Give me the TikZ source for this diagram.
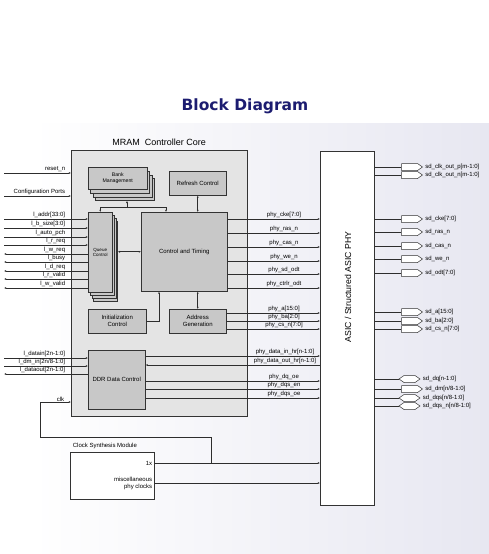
\documentclass[tikz,border=0pt]{standalone}
\usepackage{fontspec}
\setmainfont{Liberation Sans}
\newfontfamily\titlefont{DejaVu Sans}
\usetikzlibrary{positioning, calc, arrows.meta, shapes.symbols}

\definecolor{titleblue}{RGB}{28,28,112}
\definecolor{corefill}{RGB}{228,228,228}
\definecolor{blkfill}{RGB}{200,200,200}
\definecolor{bgright}{RGB}{231,231,241}
\definecolor{wirecol}{RGB}{45,45,45}

\tikzset{
  blk/.style={draw=black!80, fill=blkfill, line width=.5pt, anchor=north west, inner sep=1pt, align=center, font=\fontsize{6}{7}\selectfont},
  sig/.style={draw=wirecol, line width=.6pt, -{Latex[length=2.2pt,width=2pt]}},
  osig/.style={draw=wirecol, line width=.6pt, {Latex[length=2.2pt,width=2pt]}-},
  dsig/.style={draw=wirecol, line width=.6pt, {Latex[length=2.2pt,width=2pt]}-{Latex[length=2.2pt,width=2pt]}},
  pwire/.style={draw=wirecol, line width=.6pt},
  slbl/.style={font=\fontsize{6}{7}\selectfont, inner sep=.7pt},
  opad/.style={shape=signal, signal to=east, draw=black!80, fill=white, line width=.5pt, minimum width=21pt, minimum height=7pt, inner sep=0pt, signal pointer angle=70},
  bpad/.style={opad, signal to=east and west}
}

\begin{document}
\begin{tikzpicture}[x=1pt, y=-1pt]
  \useasboundingbox (0,0) rectangle (489,554);
  \fill[left color=white, right color=bgright] (32,123) rectangle (489,554);
  \node[font=\titlefont\bfseries\fontsize{15.5}{18}\selectfont, text=titleblue] at (245,106) (title) {Block Diagram};

  % controller core
  \node[blk, fill=corefill, minimum width=176pt, minimum height=266pt] at (71,150) (core) {};
  \node[font=\fontsize{9}{10}\selectfont, above=1pt of core] (coretitle) {MRAM\ \ Controller Core};

  \foreach \k in {3,2,1}
    \node[blk, minimum width=59pt, minimum height=22pt] at ({88+2.3*\k},{167+3.8*\k}) (bank\k) {};
  \node[blk, font=\fontsize{5.2}{6.2}\selectfont, minimum width=59pt, minimum height=22pt] at (88,167) (bank) {Bank\\Management};
  \node[blk, minimum width=57pt, minimum height=24pt] at (169,171) (refresh) {Refresh Control};

  \foreach \k in {3,2,1}
    \node[blk, minimum width=24pt, minimum height=80pt] at ({88+1.8*\k},{212+3*\k}) (queue\k) {};
  \node[blk, font=\fontsize{4.5}{5.2}\selectfont, minimum width=24pt, minimum height=80pt] at (88,212) (queue) {Queue\\Control};

  \node[blk, minimum width=86pt, minimum height=79pt] at (141,212) (ctrl) {Control and Timing};
  \node[blk, minimum width=58pt, minimum height=24pt] at (88,309) (init) {Initialization\\Control};
  \node[blk, minimum width=57pt, minimum height=24pt] at (169,309) (addr) {Address\\Generation};
  \node[blk, minimum width=57pt, minimum height=59pt] at (88,350) (ddr) {DDR Data Control};

  % phy and clocks
  \node[blk, fill=white, minimum width=54pt, minimum height=354pt] at (320,151) (asic) {};
  \node[font=\fontsize{8.7}{10}\selectfont, rotate=90] at (348,287) (asiclbl) {ASIC / Structured ASIC PHY};
  \node[blk, fill=white, minimum width=84pt, minimum height=47pt] at (70,452) (clkmod) {};
  \node[slbl, anchor=south west] at (72,450) (clkmodlbl) {Clock Synthesis Module};
  \node[slbl, anchor=east] at (153,463) (x1) {1x};
  \node[slbl, anchor=east, align=right] at (153,483) (misc) {miscellaneous\\phy clocks};

  % internal links
  \coordinate (bus) at (127,207);
  \draw[sig] (bus) -- (bus |- bank3.south);
  \draw[sig] (bus) -| (queue.north);
  \draw[sig] (bus) -| ($(ctrl.north west)+(25,0)$);
  \draw[dsig] (refresh.south) -- (refresh.south |- ctrl.north);
  \draw[dsig] (ctrl.south -| addr.north) -- (addr.north);
  \draw[dsig] (ctrl.west -| queue3.east) -- (ctrl.west);
  \draw[sig] (init.east) -| ($(ctrl.south west)+(18,0)$);

  % host side
  \coordinate (rst) at (4,173);
  \draw[sig] (rst) -- (rst -| core.west);
  \node[slbl, anchor=south east] at (66,173) (rstl) {reset\_n};
  \coordinate (cfg) at (4,196);
  \draw[sig] (cfg) -- (cfg -| core.west);
  \node[slbl, anchor=south east] at (66,196) (cfgl) {Configuration Ports};

  \foreach \y/\txt [count=\i] in {219/{l\_addr[33:0]}, 228/{l\_b\_size[3:0]}, 237/{l\_auto\_pch}, 245/{l\_r\_req}}{
    \coordinate (qi\i) at (4,\y);
    \draw[sig] (qi\i) -- (qi\i -| queue.west);
    \node[slbl, anchor=south east] at (66,\y) (qil\i) {\txt};
  }
  \foreach \y/\txt [count=\i] in {254/{l\_w\_req}, 262/{l\_busy}, 271/{l\_d\_req}, 279/{l\_r\_valid}, 288/{l\_w\_valid}}{
    \coordinate (qo\i) at (4,\y);
    \draw[osig] (qo\i) -- (qo\i -| queue.west);
    \node[slbl, anchor=south east] at (66,\y) (qol\i) {\txt};
  }
  \foreach \y/\txt [count=\i] in {358/{l\_datain[2n-1:0]}, 366/{l\_dm\_in[2n/8-1:0]}}{
    \coordinate (di\i) at (4,\y);
    \draw[sig] (di\i) -- (di\i -| ddr.west);
    \node[slbl, anchor=south east] at (66,\y) (dil\i) {\txt};
  }
  \coordinate (dout) at (4,374);
  \draw[osig] (dout) -- (dout -| ddr.west);
  \node[slbl, anchor=south east] at (66,374) (doutl) {l\_dataout[2n-1:0]};

  % clock feedback
  \coordinate (clkj) at (211,463);
  \coordinate (clkturn) at (40,437);
  \draw[sig] (clkj) |- (clkturn) |- (core.west |- 0,402);
  \node[slbl, anchor=south east] at (65,402) (clkl) {clk};
  \draw[sig] (clkmod.east |- x1) -- (asic.west |- x1);
  \draw[sig] (clkmod.east |- misc) -- (asic.west |- misc);

  % core to phy
  \foreach \y/\txt [count=\i] in {219/{phy\_cke[7:0]}, 233/{phy\_ras\_n}, 247/{phy\_cas\_n}, 261/{phy\_we\_n}, 274/{phy\_sd\_odt}, 288/{phy\_ctrlr\_odt}}{
    \draw[sig] (ctrl.east |- 0,\y) -- (asic.west |- 0,\y);
    \node[slbl, anchor=south] at (284,\y) (pc\i) {\txt};
  }
  \foreach \y/\txt [count=\i] in {313/{phy\_a[15:0]}, 321/{phy\_ba[2:0]}, 329/{phy\_cs\_n[7:0]}}{
    \draw[sig] (addr.east |- 0,\y) -- (asic.west |- 0,\y);
    \node[slbl, anchor=south] at (284,\y) (pa\i) {\txt};
  }
  \draw[sig] (ddr.east |- 0,356) -- (asic.west |- 0,356);
  \node[slbl, anchor=south] at (285,356) (pdin) {phy\_data\_in\_hr[n-1:0]};
  \draw[osig] (ddr.east |- 0,365) -- (asic.west |- 0,365);
  \node[slbl, anchor=south] at (285,365) (pdout) {phy\_data\_out\_hr[n-1:0]};
  \foreach \y/\txt [count=\i] in {381/{phy\_dq\_oe}, 389/{phy\_dqs\_en}, 398/{phy\_dqs\_oe}}{
    \draw[sig] (ddr.east |- 0,\y) -- (asic.west |- 0,\y);
    \node[slbl, anchor=south] at (284,\y) (pd\i) {\txt};
  }

  % memory pins
  \foreach \y/\txt [count=\i] in {167/{sd\_clk\_out\_p[m-1:0]}, 175/{sd\_clk\_out\_n[m-1:0]}, 219/{sd\_cke[7:0]}, 232/{sd\_ras\_n}, 246/{sd\_cas\_n}, 259/{sd\_we\_n}, 273/{sd\_odt[7:0]}, 312/{sd\_a[15:0]}, 321/{sd\_ba[2:0]}, 329/{sd\_cs\_n[7:0]}, 389/{sd\_dm[n/8-1:0]}}{
    \node[opad] at (409.5,\y) (op\i) {};
    \draw[pwire] (asic.east |- op\i) -- (op\i.west);
    \node[slbl, anchor=west, xshift=1.5pt] at (op\i.east) (opl\i) {\txt};
  }
  \foreach \y/\txt [count=\i] in {379/{sd\_dq[n-1:0]}, 398/{sd\_dqs[n/8-1:0]}, 406/{sd\_dqs\_n[n/8-1:0]}}{
    \node[bpad] at (409.5,\y) (bp\i) {};
    \draw[pwire] (asic.east |- bp\i) -- (bp\i.west);
    \node[slbl, anchor=west, xshift=1.5pt] at (bp\i.east) (bpl\i) {\txt};
  }
\end{tikzpicture}
\end{document}
